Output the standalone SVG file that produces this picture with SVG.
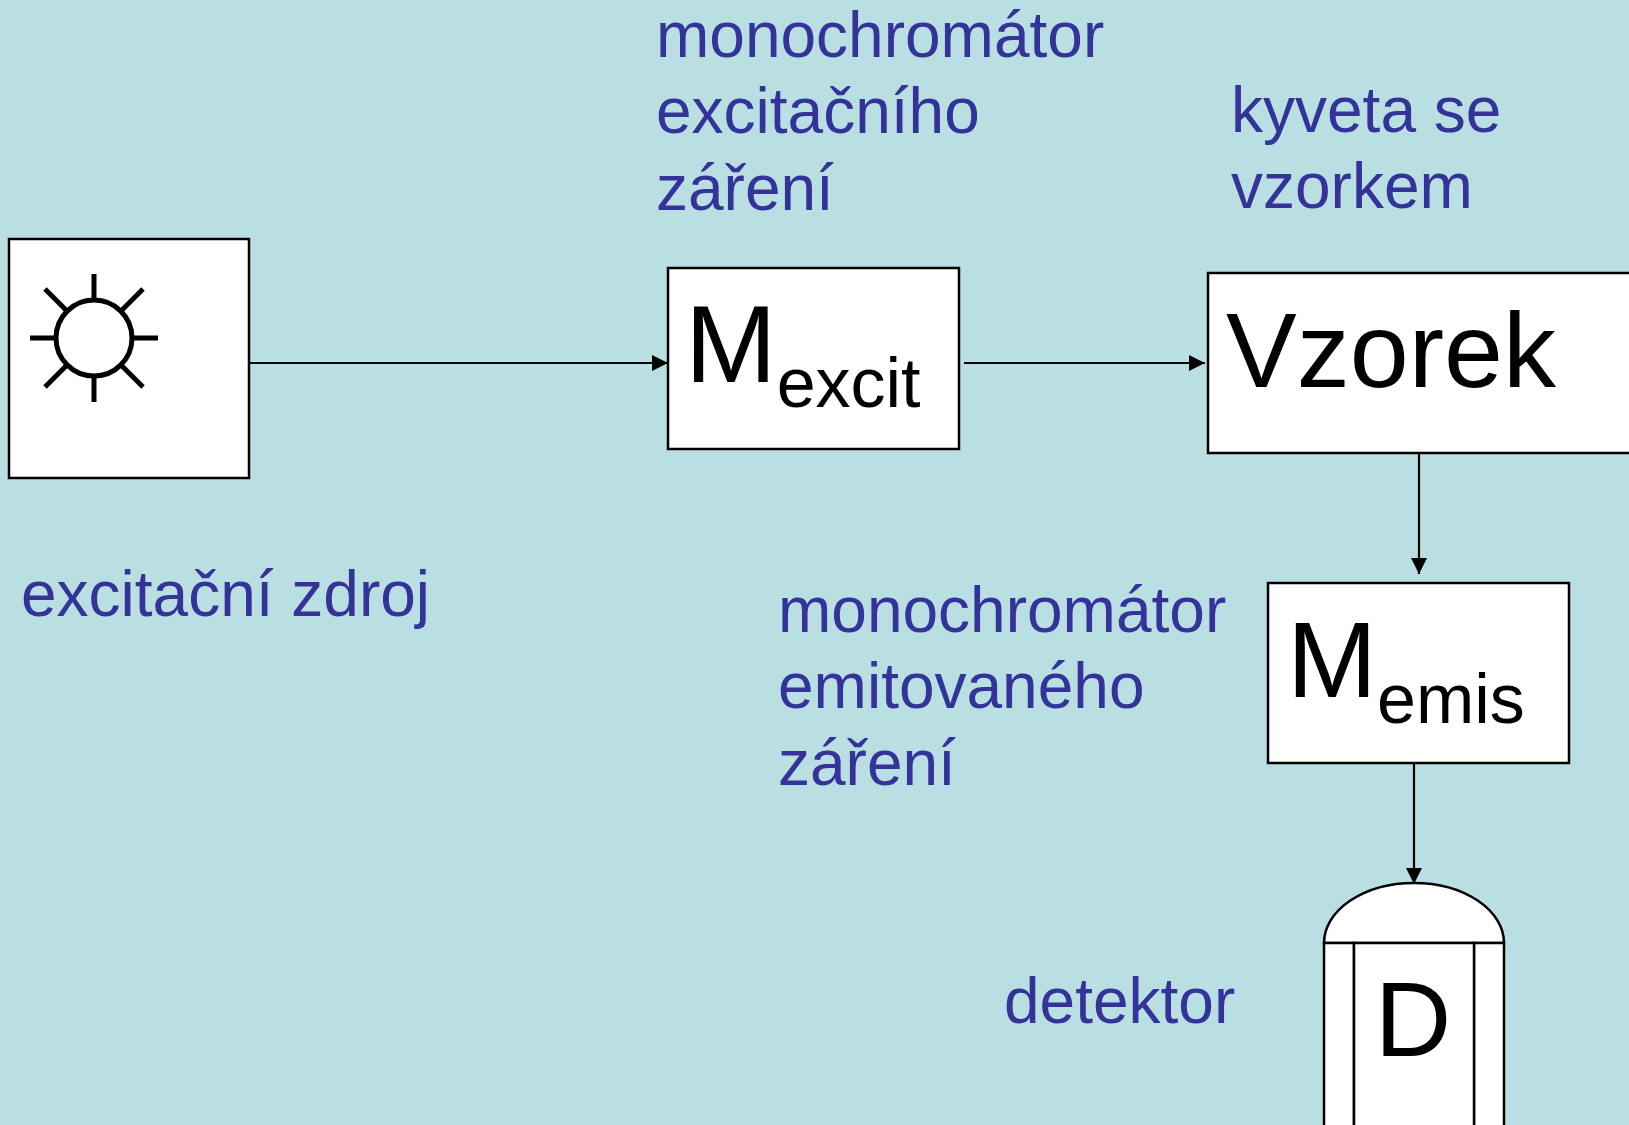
<svg xmlns="http://www.w3.org/2000/svg" width="1629" height="1125" viewBox="0 0 1629 1125">
<defs>
<style>
.box{fill:#ffffff;stroke:#000000;stroke-width:2.5}
.lbl{font-family:"Liberation Sans",Arial,sans-serif;font-size:64px;fill:#333399}
.big{font-family:"Liberation Sans",Arial,sans-serif;fill:#000000}
.conn{stroke:#000000;stroke-width:2.2;fill:none;marker-end:url(#arr)}
.sun{stroke:#000000;stroke-width:5;fill:none}
</style>
<marker id="arr" viewBox="0 0 16 16" refX="16" refY="8" markerWidth="16" markerHeight="16" markerUnits="userSpaceOnUse" orient="auto">
<path d="M0,0 L16,8 L0,16 Z" fill="#000000"/>
</marker>
</defs>
<rect x="0" y="0" width="1629" height="1125" fill="#BADFE3"/>

<g id="source">
<rect class="box" x="9" y="239" width="240" height="239"/>
<g class="sun">
<circle cx="94" cy="338" r="38" fill="#ffffff"/>
<line x1="94" y1="298" x2="94" y2="274"/>
<line x1="94" y1="378" x2="94" y2="402"/>
<line x1="54" y1="338" x2="30" y2="338"/>
<line x1="134" y1="338" x2="158" y2="338"/>
<line x1="66" y1="310" x2="45" y2="289"/>
<line x1="122" y1="310" x2="143" y2="289"/>
<line x1="66" y1="366" x2="45" y2="387"/>
<line x1="122" y1="366" x2="143" y2="387"/>
</g>
</g>
<g id="label-source"><text class="lbl" x="21" y="616">excitační zdroj</text></g>

<g id="mexcit">
<rect class="box" x="668" y="268" width="291" height="181"/>
<text class="big" x="685" y="382" font-size="110">M<tspan font-size="70" dy="25">excit</tspan></text>
</g>
<g id="label-mexcit">
<text class="lbl" x="656" y="57">monochromátor</text>
<text class="lbl" x="656" y="133">excitačního</text>
<text class="lbl" x="656" y="210">záření</text>
</g>

<g id="vzorek">
<rect class="box" x="1208" y="273" width="424" height="180"/>
<text class="big" x="1226" y="387" font-size="106">Vzorek</text>
</g>
<g id="label-vzorek">
<text class="lbl" x="1231" y="132">kyveta se</text>
<text class="lbl" x="1231" y="208">vzorkem</text>
</g>

<g id="memis">
<rect class="box" x="1268" y="583" width="301" height="180"/>
<text class="big" x="1287" y="697" font-size="108">M<tspan font-size="70" dy="26">emis</tspan></text>
</g>
<g id="label-memis">
<text class="lbl" x="778" y="632">monochromátor</text>
<text class="lbl" x="778" y="708">emitovaného</text>
<text class="lbl" x="778" y="785">záření</text>
</g>

<g id="detector">
<path class="box" d="M1324,943 A90,60 0 0 1 1504,943 Z"/>
<rect class="box" x="1324" y="943" width="30" height="190"/>
<rect class="box" x="1474" y="943" width="30" height="190"/>
<rect class="box" x="1354" y="943" width="120" height="190"/>
<text class="big" x="1413" y="1056" font-size="106" text-anchor="middle">D</text>
</g>
<g id="label-detector"><text class="lbl" x="1004" y="1023">detektor</text></g>

<g id="connectors">
<line class="conn" x1="250" y1="363" x2="668" y2="363"/>
<line class="conn" x1="964" y1="363" x2="1205" y2="363"/>
<line class="conn" x1="1419" y1="454" x2="1419" y2="574"/>
<line class="conn" x1="1414" y1="764" x2="1414" y2="884"/>
</g>
</svg>
